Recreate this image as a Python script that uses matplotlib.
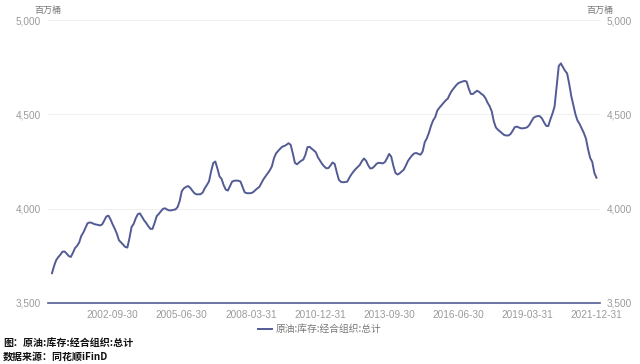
import numpy as np
import pandas as pd
import matplotlib
matplotlib.use("Agg")
import matplotlib.pyplot as plt

# OECD crude inventory, million barrels, monthly 2000-04 .. 2021-12
start_month = "2000-04-30"
stock = [
    3658, 3696, 3727, 3743, 3756, 3772, 3773, 3762, 3749, 3744,
    3766, 3791, 3803, 3821, 3856, 3874, 3898, 3923, 3927, 3925,
    3919, 3916, 3914, 3911, 3917, 3938, 3959, 3963, 3942, 3916,
    3893, 3867, 3832, 3821, 3809, 3797, 3794, 3844, 3903, 3919,
    3949, 3971, 3975, 3956, 3938, 3924, 3907, 3893, 3893, 3924,
    3960, 3972, 3986, 3999, 4002, 3995, 3991, 3991, 3994, 3996,
    4009, 4041, 4093, 4108, 4115, 4120, 4111, 4096, 4082, 4076,
    4076, 4077, 4086, 4109, 4126, 4145, 4198, 4242, 4250, 4213,
    4171, 4158, 4124, 4101, 4096, 4119, 4143, 4148, 4149, 4148,
    4144, 4115, 4087, 4082, 4082, 4082, 4087, 4097, 4107, 4115,
    4135, 4156, 4172, 4188, 4203, 4224, 4267, 4293, 4306, 4318,
    4329, 4332, 4339, 4347, 4338, 4293, 4243, 4235, 4245, 4254,
    4260, 4285, 4326, 4328, 4318, 4309, 4299, 4272, 4254, 4237,
    4224, 4214, 4215, 4229, 4245, 4237, 4193, 4153, 4142, 4140,
    4141, 4143, 4164, 4182, 4197, 4210, 4221, 4232, 4252, 4266,
    4254, 4230, 4213, 4215, 4225, 4238, 4243, 4242, 4240, 4247,
    4267, 4290, 4276, 4228, 4190, 4181, 4187, 4197, 4207, 4229,
    4253, 4269, 4283, 4293, 4295, 4290, 4286, 4303, 4352, 4373,
    4402, 4439, 4468, 4485, 4520, 4535, 4548, 4561, 4574, 4583,
    4607, 4626, 4640, 4654, 4665, 4670, 4674, 4677, 4674, 4637,
    4608, 4608, 4617, 4625, 4619, 4609, 4601, 4586, 4562, 4543,
    4516, 4462, 4430, 4418, 4409, 4399, 4390, 4388, 4388, 4396,
    4413, 4432, 4435, 4430, 4426, 4426, 4428, 4432, 4444, 4464,
    4482, 4488, 4491, 4490, 4478, 4457, 4439, 4438, 4473, 4504,
    4541, 4651, 4756, 4770, 4750, 4731, 4717, 4661, 4596, 4548,
    4499, 4466, 4448, 4424, 4401, 4371, 4315, 4269, 4248, 4190,
    4164,
]
y_ticks = [3500, 4000, 4500, 5000]
unit = "百万桶"
series_name = "原油:库存:经合组织:总计"
caption = "图：原油:库存:经合组织:总计"
source = "数据来源：同花顺iFinD"

LINE = "#525b94"
GRAY = "#9a9a9a"
CJK = ["Noto Sans CJK SC", "DejaVu Sans"]

plt.rcParams['font.family'] = ['Liberation Sans', 'DejaVu Sans']

dates = pd.date_range(start_month, periods=len(stock), freq="ME")
x = np.arange(len(stock))
# category axis labelled every 33 months, counted back from the last point
tick_idx = list(range(len(stock) - 1, 0, -33))[::-1]
tick_lbl = [dates[i].strftime("%Y-%m-%d") for i in tick_idx]

fig = plt.figure(figsize=(6.4, 3.64), dpi=100)
ax = fig.add_axes([0.075, 0.1676, 0.8625, 0.7774])

ax.plot(x, stock, color=LINE, lw=1.4, label=series_name)
ax.set_xlim(-1.9, 261.7)
ax.set_ylim(3500, 5000)

ax.set_yticks(y_ticks)
ax.set_yticklabels(["{:,}".format(v) for v in y_ticks])
ax.set_xticks(tick_idx)
ax.set_xticklabels(tick_lbl)
ax.tick_params(axis='both', length=0, colors=GRAY, labelsize=7.2)
ax.tick_params(axis='y', pad=5, labelright=True, right=False)
ax.tick_params(axis='x', pad=5)

for v in y_ticks[1:]:
    ax.axhline(v, color="#f0f0f0", lw=0.8, zorder=0)
for s in ['top', 'right', 'left']:
    ax.spines[s].set_visible(False)
ax.spines['bottom'].set_color(LINE)
ax.spines['bottom'].set_linewidth(1.2)

fig.text(48 / 640, 1 - 10 / 364, unit, ha='center', va='center', fontsize=6.5,
         color="#777777", family=CJK)
fig.text(600 / 640, 1 - 10 / 364, unit, ha='center', va='center', fontsize=6.5,
         color="#777777", family=CJK)

leg = fig.legend(loc='center', bbox_to_anchor=(0.5, 1 - 329 / 364), frameon=False,
                 handlelength=1.4, handletextpad=0.4,
                 prop={'family': CJK, 'size': 7})
for t in leg.get_texts():
    t.set_color("#777777")

fig.text(3 / 640, 1 - 344 / 364, caption, ha='left', va='center', fontsize=7.2,
         fontweight='bold', color="#111111", family=CJK)
fig.text(3 / 640, 1 - 357 / 364, source, ha='left', va='center', fontsize=7.2,
         fontweight='bold', color="#111111", family=CJK)

fig.savefig("out.png", dpi=100)
